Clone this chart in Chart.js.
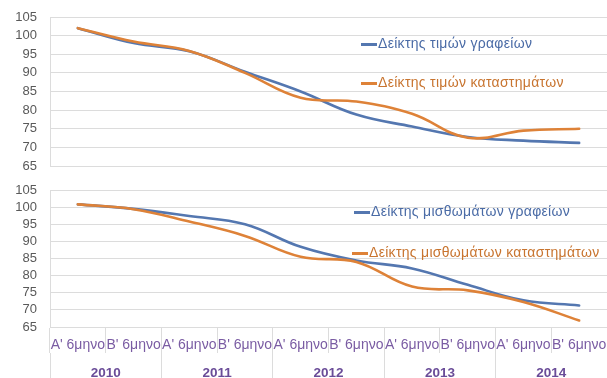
<!DOCTYPE html>
<html>
<head>
<meta charset="utf-8">
<script src="https://cdn.jsdelivr.net/npm/chart.js@4.4.1/dist/chart.umd.min.js"></script>
<style>
body { margin: 0; background: #fff; width: 607px; height: 378px; overflow: hidden; position: relative; font-family: "Liberation Sans", Arial, sans-serif; }
canvas { position: absolute; left: 0; }
#topChart { top: 0; }
#bottomChart { top: 180px; }
.leg { position: absolute; font-size: 14px; letter-spacing: 0.3px; white-space: nowrap; line-height: 16px; }
.leg i { display: inline-block; width: 16px; height: 3px; vertical-align: middle; margin-right: 1px; }
</style>
</head>
<body>
<canvas id="topChart" width="607" height="180"></canvas>
<canvas id="bottomChart" width="607" height="198"></canvas>

<div class="leg" style="left:361px;top:35px;color:#4a6ba6"><i style="background:#5477b0"></i>Δείκτης τιμών γραφείων</div>
<div class="leg" style="left:361px;top:74px;color:#c8742f"><i style="background:#de8238"></i>Δείκτης τιμών καταστημάτων</div>
<div class="leg" style="left:354px;top:203px;color:#4a6ba6"><i style="background:#5477b0"></i>Δείκτης μισθωμάτων γραφείων</div>
<div class="leg" style="left:352px;top:244px;color:#c8742f"><i style="background:#de8238"></i>Δείκτης μισθωμάτων καταστημάτων</div>

<script>
const halfYears = ["Α' 6μηνο", "Β' 6μηνο", "Α' 6μηνο", "Β' 6μηνο", "Α' 6μηνο", "Β' 6μηνο", "Α' 6μηνο", "Β' 6μηνο", "Α' 6μηνο", "Β' 6μηνο"];
const years = ['2010', '2011', '2012', '2013', '2014'];
const yTicks = [65, 70, 75, 80, 85, 90, 95, 100, 105];

// price indices (top)
const priceOffices = [102.0, 98.0, 95.8, 90.3, 85.0, 78.8, 75.6, 72.8, 71.8, 71.2];
const priceShops = [102.0, 98.4, 95.9, 90.0, 83.3, 82.3, 79.0, 72.6, 74.5, 75.0];
// rent indices (bottom)
const rentOffices = [100.8, 99.5, 97.4, 95.0, 88.4, 84.4, 82.1, 77.3, 72.8, 71.3];
const rentShops = [100.8, 99.4, 95.8, 91.6, 85.5, 84.0, 76.8, 75.7, 72.3, 66.9];

const blue = '#5477b0';
const orange = '#de8238';
const gridColor = '#dcdcdc';
const font = "'Liberation Sans', Arial, sans-serif";

function line(data, color, order) {
    return {
        data: data,
        borderColor: color,
        borderWidth: 2.6,
        tension: 0.4,
        pointRadius: 0,
        borderCapStyle: 'round',
        fill: false,
        order: order
    };
}

function yScale() {
    return {
        min: 65,
        max: 105,
        afterFit: s => { s.width = 50; s.paddingTop = 0; s.paddingBottom = 0; },
        afterBuildTicks: s => { s.ticks = yTicks.map(v => ({ value: v })); },
        grid: { color: gridColor, drawTicks: false },
        border: { color: gridColor },
        ticks: { autoSkip: false, color: '#595959', padding: 13, font: { family: font, size: 13 } }
    };
}

// top chart: prices
new Chart(document.getElementById('topChart'), {
    type: 'line',
    data: {
        labels: halfYears,
        datasets: [line(priceOffices, blue, 1), line(priceShops, orange, 0)]
    },
    options: {
        responsive: false,
        animation: false,
        layout: { padding: { top: 17, bottom: 14, left: 0, right: 0 } },
        plugins: { legend: { display: false }, tooltip: { enabled: false } },
        scales: {
            x: { display: false, offset: true },
            y: yScale()
        }
    }
});

// bottom chart: rents, with two-level x axis
new Chart(document.getElementById('bottomChart'), {
    type: 'line',
    data: {
        labels: halfYears,
        datasets: [line(rentOffices, blue, 1), line(rentShops, orange, 0)]
    },
    options: {
        responsive: false,
        animation: false,
        layout: { padding: { top: 10, bottom: 0, left: 0, right: 0 } },
        plugins: { legend: { display: false }, tooltip: { enabled: false } },
        scales: {
            x: {
                offset: true,
                weight: 0,
                afterFit: s => { s.height = 26; s.paddingLeft = 0; s.paddingRight = 0; },
                grid: { drawOnChartArea: false, tickLength: 26, color: gridColor, offset: true },
                border: { color: gridColor },
                ticks: { autoSkip: false, maxRotation: 0, minRotation: 0, padding: -16, color: '#7a5ca3', font: { family: font, size: 14 } }
            },
            x2: {
                type: 'category',
                labels: years,
                position: 'bottom',
                offset: true,
                weight: 1,
                afterFit: s => { s.height = 25; s.paddingLeft = 0; s.paddingRight = 0; },
                grid: { drawOnChartArea: false, tickLength: 25, color: gridColor, offset: true },
                border: { display: false },
                ticks: { autoSkip: false, maxRotation: 0, padding: -13, color: '#6a4c98', font: { family: font, size: 13.5, weight: 'bold' } }
            },
            y: yScale()
        }
    }
});
</script>
</body>
</html>
